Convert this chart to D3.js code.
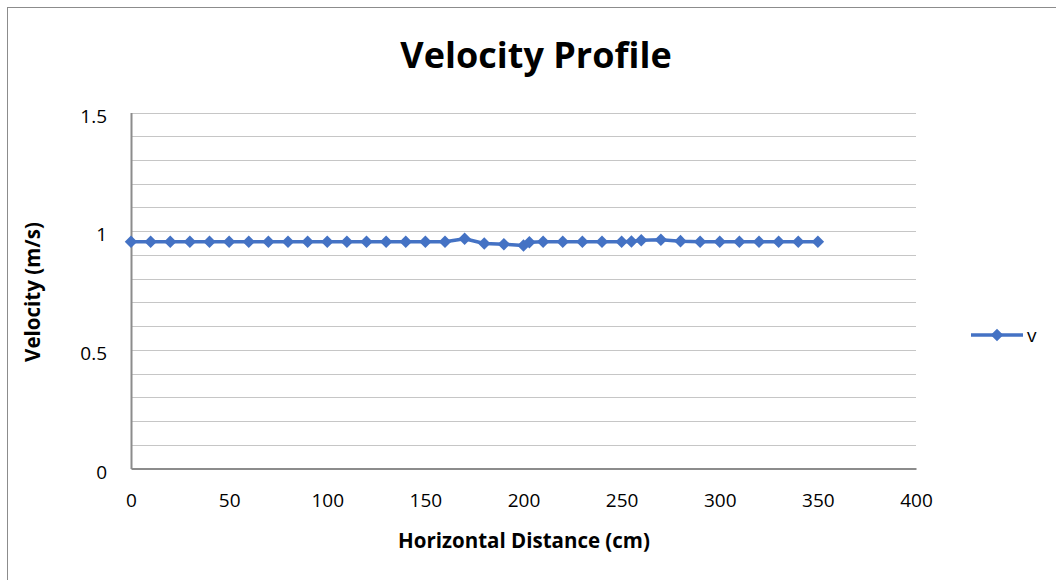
<!DOCTYPE html>
<html>
<head>
<meta charset="utf-8">
<script src="https://cdn.jsdelivr.net/npm/d3@7"></script>
<style>
  html, body { margin: 0; padding: 0; background: #fff; }
  svg { display: block; font-family: "Open Sans", Lato, "Liberation Sans", sans-serif; }
</style>
</head>
<body>
<svg id="chart" width="1056" height="580"></svg>
<script>
// Horizontal distance (cm) and measured velocity (m/s)
const distance = [0, 10, 20, 30, 40, 50, 60, 70, 80, 90, 100, 110, 120, 130, 140, 150, 160, 170,
                  180, 190, 200, 203, 210, 220, 230, 240, 250, 255, 260, 270, 280, 290, 300,
                  310, 320, 330, 340, 350];
const velocity = [0.955, 0.955, 0.955, 0.955, 0.955, 0.955, 0.955, 0.955, 0.955, 0.955, 0.955,
                  0.955, 0.955, 0.955, 0.955, 0.955, 0.955, 0.968, 0.948, 0.945, 0.940, 0.953,
                  0.955, 0.955, 0.955, 0.955, 0.955, 0.956, 0.962, 0.964, 0.958, 0.955, 0.955,
                  0.955, 0.955, 0.955, 0.955, 0.955];
const xTicks = [0, 50, 100, 150, 200, 250, 300, 350, 400];
const yTicks = [0, 0.5, 1, 1.5];
const seriesName = "v";

const data = distance.map((d, i) => ({ x: d, y: velocity[i] }));

const svg = d3.select("#chart");
const color = "#4472C4";
const font = "'Open Sans', sans-serif";
const plot = { left: 131, right: 916, top: 112.5, bottom: 468.5 };

// Chart frame
svg.append("rect")
  .attr("x", 7.5).attr("y", 7.5)
  .attr("width", 1060).attr("height", 590)
  .attr("fill", "#fff").attr("stroke", "#8c8c8c").attr("stroke-width", 1);

const x = d3.scaleLinear().domain([0, 400]).range([plot.left, plot.right]);
const y = d3.scaleLinear().domain([0, 1.5]).range([plot.bottom, plot.top]);

// Horizontal gridlines every 0.1
const gridVals = d3.range(1, 16).map(i => i / 10);
svg.append("g").selectAll("line").data(gridVals).join("line")
  .attr("x1", plot.left).attr("x2", plot.right)
  .attr("y1", d => Math.round(y(d)) + 0.5).attr("y2", d => Math.round(y(d)) + 0.5)
  .attr("stroke", "#c6c6c6").attr("stroke-width", 1);

// Y axis
const yAxis = svg.append("g")
  .attr("transform", `translate(${plot.left},0)`)
  .call(d3.axisLeft(y).tickValues(yTicks).tickFormat(d3.format("")).tickSize(0).tickPadding(24));
yAxis.select(".domain").attr("stroke", "#8c8c8c").attr("stroke-width", 2);
yAxis.selectAll("text").attr("font-size", 19).attr("fill", "#000")
  .attr("font-family", font).attr("dy", "0.5em");

// X axis
const xAxis = svg.append("g")
  .attr("transform", `translate(0,${plot.bottom})`)
  .call(d3.axisBottom(x).tickValues(xTicks).tickFormat(d3.format("")).tickSize(0).tickPadding(25));
xAxis.select(".domain").attr("stroke", "#8c8c8c").attr("stroke-width", 2);
xAxis.selectAll("text").attr("font-size", 19).attr("fill", "#000")
  .attr("font-family", font);

// Series line
svg.append("path").datum(data)
  .attr("fill", "none").attr("stroke", color).attr("stroke-width", 3.5)
  .attr("stroke-linejoin", "round")
  .attr("d", d3.line().x(d => x(d.x)).y(d => y(d.y)));

// Diamond markers
const diamond = d3.symbol().type(d3.symbolDiamond2).size(100);
svg.append("g").selectAll("path").data(data).join("path")
  .attr("transform", d => `translate(${x(d.x)},${y(d.y)})`)
  .attr("d", diamond).attr("fill", color);

// Title
svg.append("text")
  .attr("x", 536).attr("y", 68)
  .attr("text-anchor", "middle")
  .attr("font-size", 36).attr("font-weight", "bold").attr("fill", "#000")
  .text("Velocity Profile");

// Axis titles
svg.append("text")
  .attr("x", 524).attr("y", 548)
  .attr("text-anchor", "middle")
  .attr("font-size", 20.5).attr("font-weight", "bold").attr("fill", "#000")
  .text("Horizontal Distance (cm)");

svg.append("text")
  .attr("transform", "translate(40,292) rotate(-90)")
  .attr("text-anchor", "middle")
  .attr("font-size", 20.5).attr("font-weight", "bold").attr("fill", "#000")
  .text("Velocity (m/s)");

// Legend
const legend = svg.append("g").attr("transform", "translate(997,335)");
legend.append("line").attr("x1", -26).attr("x2", 26).attr("y1", 0).attr("y2", 0)
  .attr("stroke", color).attr("stroke-width", 3.5);
legend.append("path").attr("d", diamond).attr("fill", color);
legend.append("text").attr("x", 30).attr("y", 0).attr("dy", "0.35em")
  .attr("font-size", 19).attr("fill", "#000").text(seriesName);
</script>
</body>
</html>
